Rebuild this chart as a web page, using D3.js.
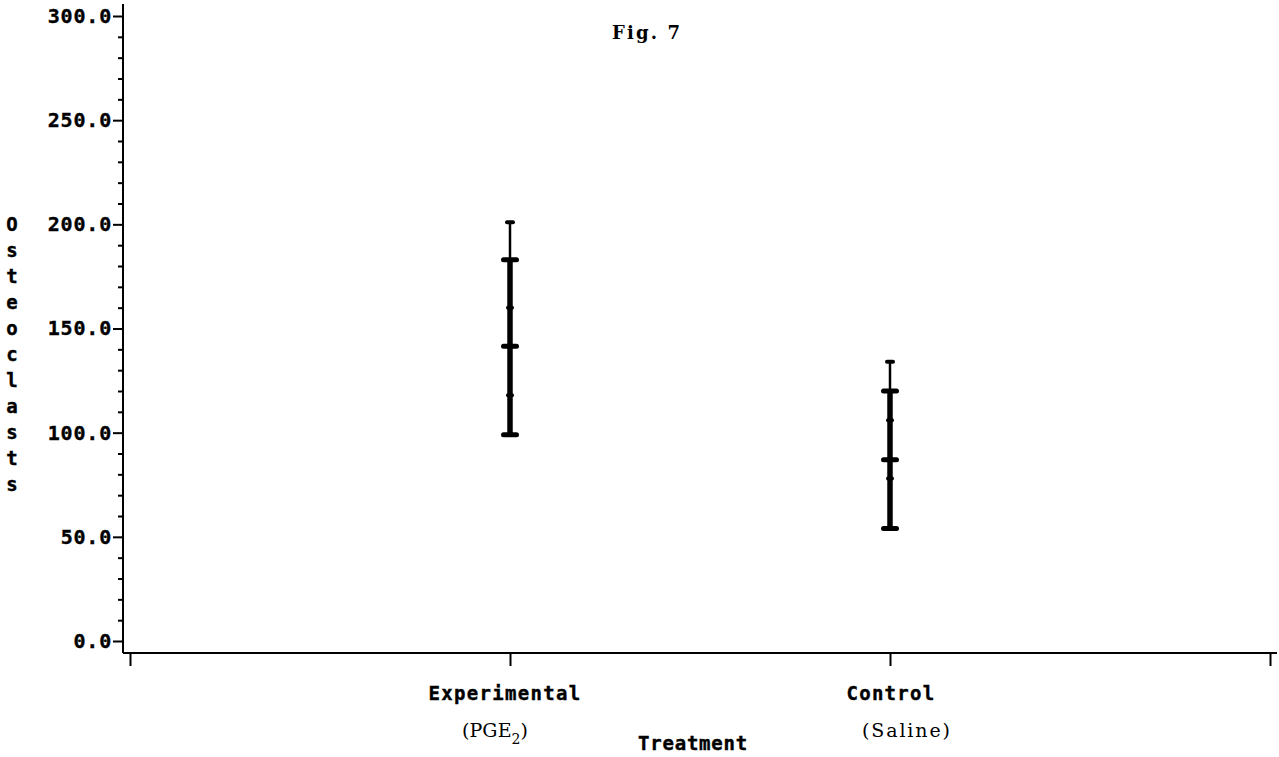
<!DOCTYPE html>
<html>
<head>
<meta charset="utf-8">
<script src="https://cdn.jsdelivr.net/npm/d3@7"></script>
<style>
  body { margin: 0; background: #fff; }
  svg { display: block; }
  .plot { font-family: "DejaVu Sans Mono", monospace; font-weight: bold; fill: #000; stroke: #000; stroke-width: 0.4px; }
  .type { font-family: "DejaVu Serif", "Liberation Serif", serif; fill: #000; }
</style>
</head>
<body>
<svg width="1279" height="757"></svg>
<script>
// groups and read-off values (osteoclast counts)
var categories = ["Experimental", "Control"];
var subLabels = ["(PGE_2)", "(Saline)"];
var maxCounts = [201, 134];
var upperCounts = [183, 120];
var upperInner = [160, 106];
var meanCounts = [141.5, 87];
var lowerInner = [118, 78];
var minCounts = [99, 54];
var yTicks = [0, 50, 100, 150, 200, 250, 300];
var yTitle = "Osteoclasts";

var svg = d3.select("svg");

var y = d3.scaleLinear().domain([0, 300]).range([641, 16]);
var x = d3.scaleLinear().domain([0, 3]).range([130, 1270]);

var axisTop = y(300) - 12,
    axisBottom = y(0) + 12,
    axisLeft = 123;

// minor ticks first so the majors sit on top
var minor = d3.range(0, 301, 10).filter(function (d) { return d % 50 != 0; });
svg.append("g").
  attr("transform", "translate(" + axisLeft + ",0)").
  call(d3.axisLeft(y).tickValues(minor).tickSize(5).tickFormat("")).
  call(function (g) { g.select(".domain").remove(); }).
  selectAll("line").attr("stroke-width", 2);

var yAxis = svg.append("g").
  attr("transform", "translate(" + axisLeft + ",0)").
  call(d3.axisLeft(y).tickValues(yTicks).tickSize(10).tickPadding(1).tickFormat(d3.format(".1f")));
yAxis.select(".domain").remove();
yAxis.selectAll("line").attr("stroke-width", 2);
yAxis.selectAll("text").
  attr("class", "plot").
  attr("font-size", 20).
  attr("letter-spacing", 0.8);

// x axis ticks
var xAxis = svg.append("g").
  attr("transform", "translate(0," + axisBottom + ")").
  call(d3.axisBottom(x).tickValues([0, 1, 2, 3]).tickSize(13).tickFormat(""));
xAxis.select(".domain").remove();
xAxis.selectAll("line").attr("stroke-width", 2);

// spines
svg.append("line").
  attr("x1", axisLeft).attr("x2", axisLeft).
  attr("y1", axisTop).attr("y2", axisBottom).
  attr("stroke", "#000").attr("stroke-width", 2);
svg.append("line").
  attr("x1", axisLeft).attr("x2", x(3) + 7).
  attr("y1", axisBottom).attr("y2", axisBottom).
  attr("stroke", "#000").attr("stroke-width", 2);

// error bars
var bars = svg.selectAll(".bar").
  data(categories.map(function (c, i) {
    return { name: c, pos: i + 1, max: maxCounts[i], up: upperCounts[i], upIn: upperInner[i],
             mean: meanCounts[i], lowIn: lowerInner[i], min: minCounts[i] };
  })).
  enter().append("g").
  attr("class", "bar").
  attr("transform", function (d) { return "translate(" + x(d.pos) + ",0)"; });

bars.append("line").
  attr("y1", function (d) { return y(d.max); }).
  attr("y2", function (d) { return y(d.up); }).
  attr("stroke", "#000").attr("stroke-width", 2.5);
bars.append("line").
  attr("y1", function (d) { return y(d.up); }).
  attr("y2", function (d) { return y(d.min); }).
  attr("stroke", "#000").attr("stroke-width", 5.5);

function cap(key, w, h) {
  bars.append("rect").
    attr("x", -w / 2).
    attr("y", function (d) { return y(d[key]) - h / 2; }).
    attr("width", w).attr("height", h).
    attr("rx", h / 2).
    attr("fill", "#000");
}
cap("max", 10, 4);
cap("up", 18, 5);
cap("upIn", 8, 4);
cap("mean", 18, 5);
cap("lowIn", 8, 4);
cap("min", 18, 5);

// category labels
var labelShift = [-5, 1];
var subShift = [-15, 16];
var subWidth = [66, 88];

svg.selectAll(".cat").
  data(categories).
  enter().append("text").
  attr("class", "plot").
  attr("x", function (d, i) { return x(i + 1) + labelShift[i]; }).
  attr("y", 700).
  attr("text-anchor", "middle").
  attr("font-size", 19).
  attr("letter-spacing", 1.3).
  text(function (d) { return d; });

var subs = svg.selectAll(".sub").
  data(subLabels).
  enter().append("text").
  attr("class", "type").
  attr("x", function (d, i) { return x(i + 1) + subShift[i] - subWidth[i] / 2; }).
  attr("y", 737).
  attr("font-size", 19).
  attr("textLength", function (d, i) { return subWidth[i]; }).
  attr("lengthAdjust", "spacing");
subs.each(function (d) {
  var t = d3.select(this);
  var parts = d.split("_");
  if (parts.length == 1) { t.text(d); return; }
  t.append("tspan").text(parts[0]);
  t.append("tspan").attr("font-size", 14).attr("dy", 7).text(parts[1].charAt(0));
  t.append("tspan").attr("dy", -7).text(parts[1].slice(1));
});

svg.append("text").
  attr("class", "plot").
  attr("x", x(1.5) - 7).
  attr("y", 750).
  attr("text-anchor", "middle").
  attr("font-size", 19).
  attr("letter-spacing", 0.8).
  text("Treatment");

// vertical stacked y title, one letter per line
svg.selectAll(".ytitle").
  data(yTitle.split("")).
  enter().append("text").
  attr("class", "plot").
  attr("x", 12).
  attr("y", function (d, i) { return y(200) + i * (y(150) - y(200)) / 4; }).
  attr("dy", "0.35em").
  attr("text-anchor", "middle").
  attr("font-size", 19).
  text(function (d) { return d; });

svg.append("text").
  attr("class", "type").
  attr("x", 612).
  attr("y", 39).
  attr("font-size", 18).
  attr("font-weight", "bold").
  attr("textLength", 68).
  attr("lengthAdjust", "spacing").
  text("Fig. 7");
</script>
</body>
</html>
